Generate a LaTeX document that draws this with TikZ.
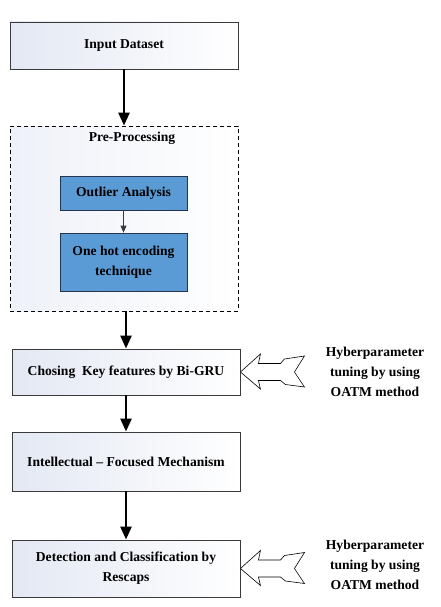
\documentclass[tikz,border=0pt]{standalone}
\usepackage{fontspec}
\setmainfont{Liberation Serif}
\usetikzlibrary{arrows.meta,calc}
\definecolor{boxtint}{HTML}{E3E8F3}
\definecolor{pretint}{HTML}{EEF1F8}
\definecolor{bluefill}{HTML}{5B9BD5}
\definecolor{blueedge}{HTML}{26344F}
\definecolor{edgegray}{HTML}{3A3A3A}
\tikzset{
  mainbox/.style={draw=edgegray, line width=0.9pt, left color=boxtint, right color=white,
    minimum width=228pt, inner sep=2pt, align=center,
    font=\fontsize{13.6}{20}\selectfont\bfseries},
  prebox/.style={draw=black, dashed, dash pattern=on 4pt off 3pt, line width=0.8pt,
    left color=pretint, right color=white, minimum width=228pt, minimum height=185pt},
  bluebox/.style={draw=blueedge, line width=0.8pt, fill=bluefill, minimum width=127pt,
    align=center, inner sep=2pt, font=\fontsize{13.6}{20}\selectfont\bfseries},
  thick arrow/.style={line width=2.6pt, -{Triangle[length=13pt,width=11pt]}},
  thin arrow/.style={draw=edgegray, line width=0.8pt, -{Triangle[length=7pt,width=6pt]}},
  blockarrow/.style={draw=black, line width=0.6pt, fill=white, line join=miter},
  sidetext/.style={align=center, font=\fontsize{13.6}{20}\selectfont\bfseries}
}
\begin{document}
\begin{tikzpicture}[x=1pt,y=-1pt]
\useasboundingbox (0,0) rectangle (440,607);
\node[mainbox, minimum height=47pt] (inp) at (124,45.5) {Input Dataset};
\node[prebox] (pre) at (124,218.5) {};
\node[font=\fontsize{13.6}{20}\selectfont\bfseries] (prelbl) at (132,138) {Pre-Processing};
\node[bluebox, minimum height=34pt] (out) at (123.5,193) {Outlier Analysis};
\node[bluebox, minimum height=58pt] (hot) at (123.5,262) {One hot encoding\\technique};
\node[mainbox, minimum height=46pt] (chos) at (126,372) {Chosing~ Key features by Bi-GRU};
\node[mainbox, minimum height=59pt] (intel) at (126,461.5) {Intellectual -- Focused Mechanism};
\node[mainbox, minimum height=57pt] (det) at (126,568.5) {Detection and Classification by\\Rescaps};
\node[sidetext] (hyp1) at (375,372) {Hyberparameter\\tuning by using\\OATM method};
\node[sidetext] (hyp2) at (375,565) {Hyberparameter\\tuning by using\\OATM method};

\draw[thick arrow] (inp.south) -- (pre.north);
\draw[thin arrow] (out.south) -- (hot.north);
\draw[thick arrow] (pre.south -| chos.north) -- (chos.north);
\draw[thick arrow] (chos.south) -- (intel.north);
\draw[thick arrow] (intel.south) -- (det.north);

\foreach \n in {chos,det}{
  \draw[blockarrow, shift={(\n.east)}] (0,0) -- (20,-18) -- (18,-8.5) -- (40,-8.5) -- (44,-13)
    -- (64,-16) -- (54,0) -- (64,15) -- (45,12.5) -- (40,8.5) -- (18,8.5) -- (20,17) -- cycle;
}
\end{tikzpicture}
\end{document}
